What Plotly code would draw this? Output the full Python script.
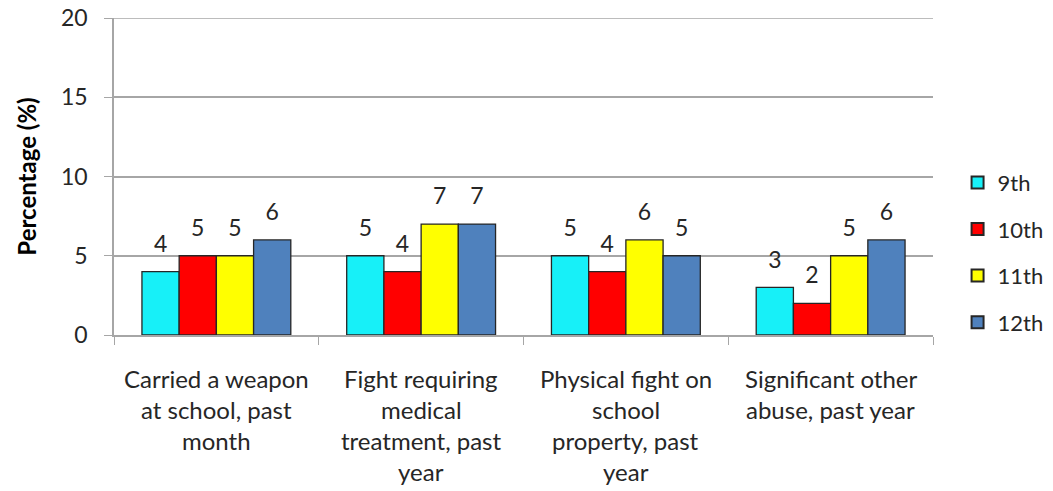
import plotly.graph_objects as go

categories = ["Carried a weapon at school, past month",
              "Fight requiring medical treatment, past year",
              "Physical fight on school property, past year",
              "Significant other abuse, past year"]
label_lines = [["Carried a weapon", "at school, past", "month"],
               ["Fight requiring", "medical", "treatment, past", "year"],
               ["Physical fight on", "school", "property, past", "year"],
               ["Significant other", "abuse, past year"]]
series_names = ["9th", "10th", "11th", "12th"]
values = {
    "9th": [4, 5, 5, 3],
    "10th": [5, 4, 4, 2],
    "11th": [5, 7, 6, 5],
    "12th": [6, 7, 5, 6],
}
colors = {"9th": "#17F0F8", "10th": "#FF0000", "11th": "#FFFF00", "12th": "#4F81BD"}
y_ticks = [0, 5, 10, 15, 20]

FONT = "Lato"
TXT = "#262626"
GAP = 0.273

fig = go.Figure()
for s in series_names:
    fig.add_trace(go.Bar(
        x=categories, y=values[s], name=s,
        marker=dict(color=colors[s], line=dict(color="#262626", width=1.3)),
        cliponaxis=False, legendgroup=s, offsetgroup=s,
    ))
# value labels, grouped like the bars
for s in series_names:
    fig.add_trace(go.Scatter(
        x=categories, y=values[s], mode="markers+text", showlegend=False,
        text=[str(v) for v in values[s]], textposition="top center",
        textfont=dict(family=FONT, size=23, color=TXT),
        marker=dict(size=21, opacity=0), hoverinfo="skip",
        cliponaxis=False, offsetgroup=s, legendgroup=s,
    ))

for ci, lines in enumerate(label_lines):
    for li, line in enumerate(lines):
        fig.add_annotation(x=categories[ci], xref="x", y=0, yref="paper",
                           yanchor="middle", yshift=-43 - li * 31.3,
                           text=line, showarrow=False,
                           font=dict(family=FONT, size=24, color=TXT))

fig.update_layout(
    width=1053, height=491,
    margin=dict(l=114, r=120, t=18, b=156, autoexpand=False),
    paper_bgcolor="white", plot_bgcolor="white",
    barmode="group", bargap=GAP, bargroupgap=0,
    scattermode="group", scattergap=GAP,
    font=dict(family=FONT, size=23, color=TXT),
    showlegend=True,
    legend=dict(x=1.03, xanchor="left", xref="paper", y=0.26, yanchor="middle",
                font=dict(family=FONT, size=22, color=TXT),
                traceorder="grouped", tracegroupgap=15,
                itemsizing="constant", bgcolor="rgba(0,0,0,0)"),
    xaxis=dict(showticklabels=False, ticks="outside", tickson="boundaries",
               ticklen=8, tickcolor="#A6A6A6", showline=True, linecolor="#A6A6A6",
               linewidth=1.5, showgrid=False, zeroline=False),
    yaxis=dict(range=[0, 20], tickvals=y_ticks, ticks="outside", ticklen=8,
               tickcolor="#A6A6A6", showline=True, linecolor="#A6A6A6", linewidth=1.5,
               showgrid=True, gridcolor="#A6A6A6", gridwidth=1.5, zeroline=False,
               ticklabeloverflow="allow", ticklabelstandoff=12,
               tickfont=dict(family=FONT, size=23, color=TXT),
               title=dict(text="<b>Percentage (%)</b>", standoff=18,
                          font=dict(family=FONT, size=24, color="#000000"))),
)
fig.add_shape(type="line", xref="paper", yref="y", x0=0, x1=1, y0=20, y1=20,
              line=dict(color="#A6A6A6", width=1.5))

fig.write_html("out.html", config={"displayModeBar": False},
               post_script="document.body.style.margin='0';document.body.style.overflow='hidden';")
